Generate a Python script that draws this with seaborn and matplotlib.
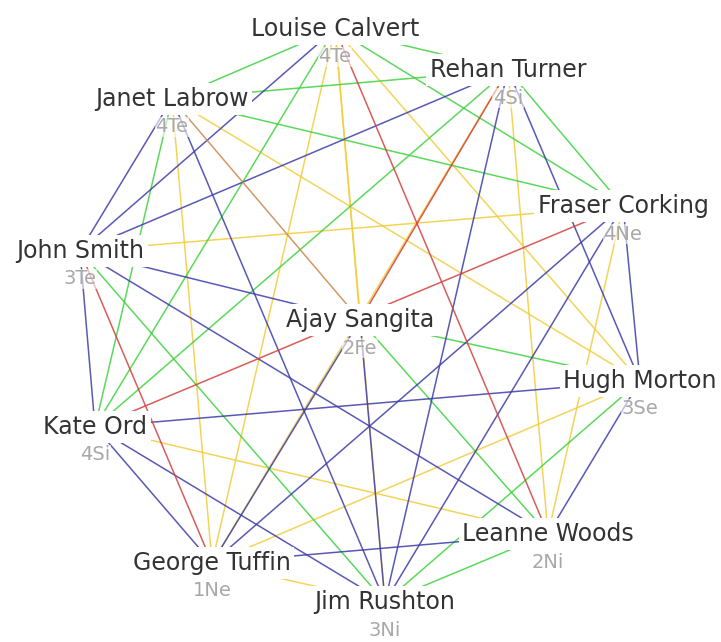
import matplotlib
matplotlib.use("Agg")
import matplotlib.pyplot as plt
import seaborn as sns
import pandas as pd

# ---- data ----
names = ["Louise Calvert", "Rehan Turner", "Janet Labrow", "Fraser Corking",
         "John Smith", "Ajay Sangita", "Hugh Morton", "Kate Ord",
         "Leanne Woods", "George Tuffin", "Jim Rushton"]
codes = ["4Te", "4Si", "4Te", "4Ne", "3Te", "2Fe", "3Se", "4Si", "2Ni", "1Ne", "3Ni"]
layout_x = [335, 508, 172, 623, 80, 360, 640, 95, 548, 212, 385]
layout_y = [29, 70, 99, 206, 251, 320, 381, 427, 534, 563, 602]

edge_source = ["Louise Calvert", "Louise Calvert", "Louise Calvert", "Louise Calvert",
               "Louise Calvert", "Louise Calvert", "Louise Calvert", "Louise Calvert",
               "Louise Calvert", "Louise Calvert",
               "Rehan Turner", "Rehan Turner", "Rehan Turner", "Rehan Turner",
               "Rehan Turner", "Rehan Turner", "Rehan Turner", "Rehan Turner",
               "Rehan Turner",
               "Janet Labrow", "Janet Labrow", "Janet Labrow", "Janet Labrow",
               "Janet Labrow", "Janet Labrow", "Janet Labrow",
               "Fraser Corking", "Fraser Corking", "Fraser Corking",
               "Fraser Corking", "Fraser Corking", "Fraser Corking",
               "John Smith", "John Smith", "John Smith", "John Smith", "John Smith",
               "Ajay Sangita", "Ajay Sangita", "Ajay Sangita", "Ajay Sangita",
               "Hugh Morton", "Hugh Morton", "Hugh Morton", "Hugh Morton",
               "Kate Ord", "Kate Ord", "Kate Ord",
               "Leanne Woods", "Leanne Woods",
               "George Tuffin"]
edge_target = ["Rehan Turner", "Janet Labrow", "Fraser Corking", "John Smith",
               "Ajay Sangita", "Hugh Morton", "Kate Ord", "Leanne Woods",
               "George Tuffin", "Jim Rushton",
               "Janet Labrow", "Fraser Corking", "John Smith", "Ajay Sangita",
               "Hugh Morton", "Kate Ord", "Leanne Woods", "George Tuffin",
               "Jim Rushton",
               "Fraser Corking", "John Smith", "Ajay Sangita", "Hugh Morton",
               "Kate Ord", "George Tuffin", "Jim Rushton",
               "John Smith", "Hugh Morton", "Kate Ord",
               "Leanne Woods", "George Tuffin", "Jim Rushton",
               "Ajay Sangita", "Kate Ord", "Leanne Woods",
               "George Tuffin", "Jim Rushton",
               "Hugh Morton", "Leanne Woods", "George Tuffin", "Jim Rushton",
               "Kate Ord", "Leanne Woods", "George Tuffin", "Jim Rushton",
               "Leanne Woods", "George Tuffin", "Jim Rushton",
               "George Tuffin", "Jim Rushton",
               "Jim Rushton"]
edge_kind = ["green", "green", "green", "blue", "yellow", "yellow", "green", "red",
             "yellow", "yellow",
             "green", "green", "blue", "red", "blue", "green", "yellow", "yellow",
             "blue",
             "green", "blue", "orange", "yellow", "green", "yellow", "blue",
             "yellow", "blue", "red", "yellow", "blue", "blue",
             "blue", "blue", "blue", "red", "green",
             "green", "green", "blue", "blue",
             "blue", "blue", "yellow", "green",
             "yellow", "blue", "blue",
             "blue", "green",
             "yellow"]

palette = {"yellow": "#f2cd3c", "green": "#3fd23f", "blue": "#3c3ca8",
           "red": "#d2413c", "orange": "#c9874c"}
draw_order = ["yellow", "green", "blue", "orange", "red"]

# ---- build long-form edge table ----
pos = {n: (x, y) for n, x, y in zip(names, layout_x, layout_y)}
rows = []
eid = 0
for kind in draw_order:
    for s, t, k in zip(edge_source, edge_target, edge_kind):
        if k != kind:
            continue
        rows.append({"edge": eid, "kind": k, "x": pos[s][0], "y": pos[s][1]})
        rows.append({"edge": eid, "kind": k, "x": pos[t][0], "y": pos[t][1]})
        eid += 1
edges = pd.DataFrame(rows)

# ---- plot ----
sns.set_style("white")
plt.rcParams["font.family"] = ["DejaVu Sans"]
fig = plt.figure(figsize=(7.21, 6.42), dpi=100)
ax = fig.add_axes([0, 0, 1, 1])

for kind in draw_order:
    sub = edges[edges["kind"] == kind]
    if sub.empty:
        continue
    sns.lineplot(data=sub, x="x", y="y", units="edge", estimator=None, sort=False,
                 color=palette[kind], linewidth=1.1, alpha=0.85, ax=ax, legend=False)

for n, c, x, y in zip(names, codes, layout_x, layout_y):
    ax.text(x, y + 28, c, ha="center", va="center", fontsize=14, color="#a8a8a8",
            zorder=5, bbox=dict(boxstyle="square,pad=0.05", fc="white", ec="none", alpha=0.6))
    ax.text(x, y, n, ha="center", va="center", fontsize=17, color="#333333",
            zorder=6, bbox=dict(boxstyle="square,pad=0.15", fc="white", ec="none"))

ax.set_xlim(0, 721)
ax.set_ylim(642, 0)
ax.axis("off")
fig.savefig("out.png", dpi=100, facecolor="white")
